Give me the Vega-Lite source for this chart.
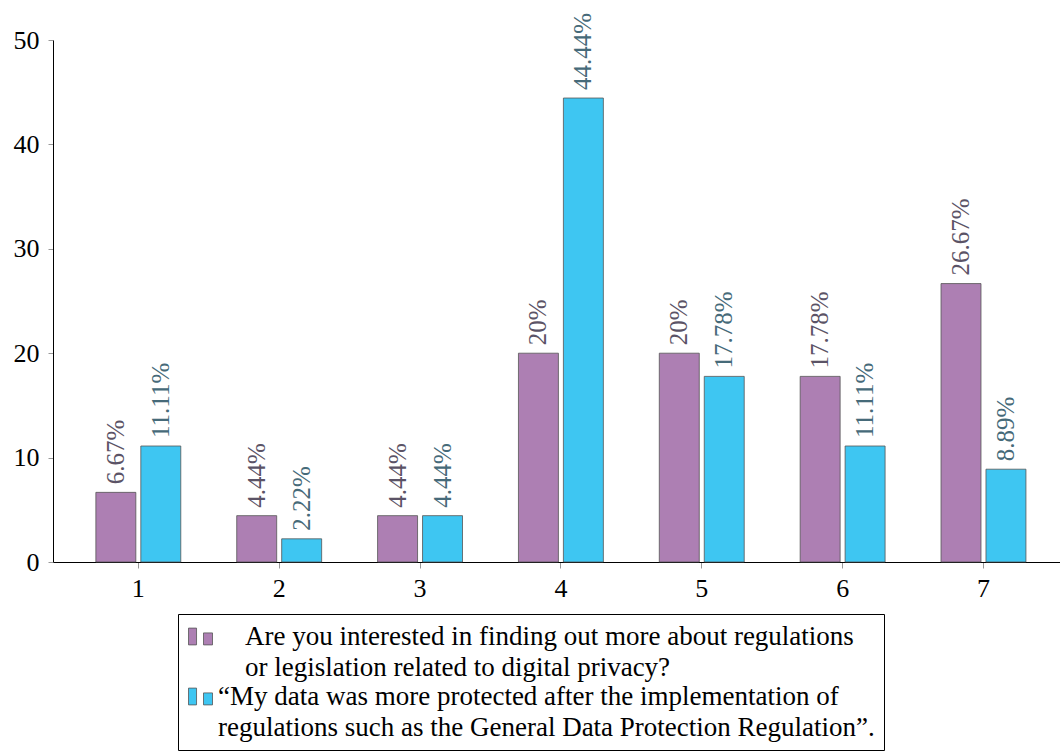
{
  "$schema": "https://vega.github.io/schema/vega-lite/v6.json",
  "width": 1007,
  "height": 522,
  "autosize": {"type": "none"},
  "padding": {"left": 53, "top": 40, "right": 0, "bottom": 191},
  "background": "white",
  "config": {
    "view": {"stroke": null},
    "font": "Liberation Serif",
    "text": {"font": "Liberation Serif"},
    "axis": {"labelFont": "Liberation Serif", "labelFontSize": 26, "labelColor": "black", "domainColor": "black", "tickColor": "#999999", "grid": false, "title": null}
  },
  "data": {
    "values": [
      {"cat": "1", "series": "Are you interested in finding out more about regulations\nor legislation related to digital privacy?", "value": 6.67},
      {"cat": "1", "series": "“My data was more protected after the implementation of\nregulations such as the General Data Protection Regulation”.", "value": 11.11},
      {"cat": "2", "series": "Are you interested in finding out more about regulations\nor legislation related to digital privacy?", "value": 4.44},
      {"cat": "2", "series": "“My data was more protected after the implementation of\nregulations such as the General Data Protection Regulation”.", "value": 2.22},
      {"cat": "3", "series": "Are you interested in finding out more about regulations\nor legislation related to digital privacy?", "value": 4.44},
      {"cat": "3", "series": "“My data was more protected after the implementation of\nregulations such as the General Data Protection Regulation”.", "value": 4.44},
      {"cat": "4", "series": "Are you interested in finding out more about regulations\nor legislation related to digital privacy?", "value": 20},
      {"cat": "4", "series": "“My data was more protected after the implementation of\nregulations such as the General Data Protection Regulation”.", "value": 44.44},
      {"cat": "5", "series": "Are you interested in finding out more about regulations\nor legislation related to digital privacy?", "value": 20},
      {"cat": "5", "series": "“My data was more protected after the implementation of\nregulations such as the General Data Protection Regulation”.", "value": 17.78},
      {"cat": "6", "series": "Are you interested in finding out more about regulations\nor legislation related to digital privacy?", "value": 17.78},
      {"cat": "6", "series": "“My data was more protected after the implementation of\nregulations such as the General Data Protection Regulation”.", "value": 11.11},
      {"cat": "7", "series": "Are you interested in finding out more about regulations\nor legislation related to digital privacy?", "value": 26.67},
      {"cat": "7", "series": "“My data was more protected after the implementation of\nregulations such as the General Data Protection Regulation”.", "value": 8.89}
    ]
  },
  "transform": [
    {"calculate": "format(datum.value, '.4~r') + '%'", "as": "label"}
  ],
  "encoding": {
    "x": {
      "field": "cat", "type": "nominal",
      "scale": {"paddingInner": 0, "paddingOuter": 0.0745, "align": 0.71},
      "axis": {"labelAngle": 0, "tickSize": 6, "labelPadding": 7, "domainColor": "black"}
    },
    "xOffset": {
      "field": "series", "type": "nominal",
      "scale": {"paddingInner": 0.111, "paddingOuter": 0.622}
    },
    "y": {
      "field": "value", "type": "quantitative",
      "scale": {"domain": [0, 50], "nice": false},
      "axis": {"values": [0, 10, 20, 30, 40, 50], "tickSize": 5, "labelPadding": 9}
    }
  },
  "layer": [
    {
      "mark": {"type": "bar", "stroke": "#555555", "strokeWidth": 0.8},
      "encoding": {
        "color": {
          "field": "series", "type": "nominal",
          "scale": {"range": ["#AD7FB3", "#3EC6F2"]},
          "legend": {
            "orient": "none",
            "legendX": 125,
            "legendY": 574,
            "title": null,
            "direction": "vertical",
            "symbolType": "M-1,-0.7H-0.33V0.7H-1Z M0.25,-0.3H1V0.7H0.25Z",
            "symbolSize": 576,
            "symbolStrokeColor": "#555555",
            "symbolStrokeWidth": 0.8,
            "labelFont": "Liberation Serif",
            "labelFontSize": 27,
            "labelColor": "black",
            "labelLimit": 1000,
            "labelOffset": 4,
            "labelBaseline": "middle",
            "labelExpr": "split(indexof(datum.label, 'Are') == 0 ? '\u200b\u00a0\u00a0\u00a0\u00a0' + replace(datum.label, '\\n', '\\n\u200b\u00a0\u00a0\u00a0\u00a0') : datum.label, '\\n')",
            "rowPadding": 1,
            "padding": 9,
            "strokeColor": "black",
            "fillColor": "white",
            "encode": {"labels": {"update": {"lineHeight": {"value": 31}}}}
          }
        }
      }
    },
    {
      "mark": {"type": "text", "angle": 270, "align": "left", "baseline": "middle", "dx": 8, "fontSize": 25, "font": "Liberation Serif"},
      "encoding": {
        "text": {"field": "label"},
        "color": {
          "field": "series", "type": "nominal",
          "scale": {"range": ["#5b5366", "#466a79"]},
          "legend": null
        }
      }
    }
  ],
  "resolve": {"scale": {"color": "independent"}}
}
